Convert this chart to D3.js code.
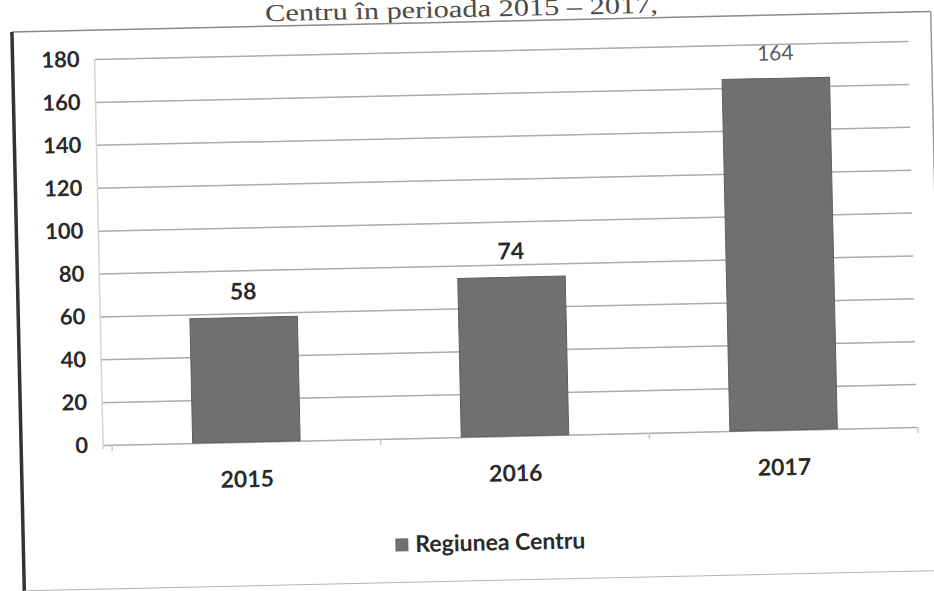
<!DOCTYPE html>
<html>
<head>
<meta charset="utf-8">
<script src="https://cdn.jsdelivr.net/npm/d3@7"></script>
<style>
  body { margin: 0; background: #fff; }
  svg { display: block; }
</style>
</head>
<body>
<svg id="chart" width="934" height="591"></svg>
<script>
// Data
const categories = ["2015", "2016", "2017"];
const values = [58, 74, 164];
const yTicks = [0, 20, 40, 60, 80, 100, 120, 140, 160, 180];
const seriesName = "Regiunea Centru";
const titleText = "Centru în perioada 2015 – 2017,";

const W = 934, H = 591;
const svg = d3.select("#chart");
svg.append("rect").attr("width", W).attr("height", H).attr("fill", "#fff");

// The printed page sits slightly askew
const g = svg.append("g").attr("transform", "rotate(-1.27,510,436)");

const plot = { left: 103, right: 917, top: 50, bottom: 436 };
const x = d3.scaleBand().domain(categories).range([112, 918])
  .paddingInner(0.6).paddingOuter(0.3);
const y = d3.scaleLinear().domain([0, 180]).range([plot.bottom, plot.top]);

const font = "Lato, 'Open Sans', sans-serif";
const ink = "#2a2a2a";

// Page title above the chart frame
g.append("text")
  .attr("x", 471).attr("y", 16)
  .attr("text-anchor", "middle")
  .attr("font-family", "'Liberation Serif', 'Times New Roman', serif")
  .attr("font-size", 24)
  .attr("fill", "#4a4a4a")
  .attr("textLength", 393).attr("lengthAdjust", "spacingAndGlyphs")
  .text(titleText);

// Chart frame
g.append("line").attr("x1", 21).attr("x2", 940).attr("y1", 21).attr("y2", 21)
  .attr("stroke", "#8a8a8a").attr("stroke-width", 1.5);
g.append("line").attr("x1", 21).attr("x2", 21).attr("y1", 21).attr("y2", 600)
  .attr("stroke", "#333").attr("stroke-width", 3.5);
g.append("line").attr("x1", 940).attr("x2", 940).attr("y1", 21).attr("y2", 580)
  .attr("stroke", "#9a9a9a").attr("stroke-width", 1.5);
g.append("line").attr("x1", 21).attr("x2", 940).attr("y1", 580).attr("y2", 580)
  .attr("stroke", "#b5b5b5").attr("stroke-width", 1);

// Y axis with gridlines
const yAxis = d3.axisLeft(y).tickValues(yTicks)
  .tickSize(-(plot.right - plot.left)).tickPadding(15);
const ya = g.append("g").attr("transform", `translate(${plot.left},0)`).call(yAxis);
ya.select(".domain").remove();
ya.selectAll(".tick line").attr("stroke", "#ababab").attr("stroke-width", 1.5);
ya.selectAll(".tick text")
  .attr("font-family", font).attr("font-weight", 700).attr("font-size", 22)
  .attr("fill", ink);

// faint vertical axis line
g.append("line").attr("x1", plot.left).attr("x2", plot.left)
  .attr("y1", plot.top).attr("y2", plot.bottom + 4)
  .attr("stroke", "#d4d4d4").attr("stroke-width", 1.5);

// Category boundary ticks
const bounds = categories.map(c => x(c) - x.step() * x.paddingInner() / 2);
bounds.push(x(categories[categories.length - 1]) + x.bandwidth() + x.step() * x.paddingInner() / 2);
g.selectAll(".ctick").data(bounds).join("line")
  .attr("x1", d => d).attr("x2", d => d)
  .attr("y1", plot.bottom).attr("y2", plot.bottom + 6)
  .attr("stroke", "#c8c8c8").attr("stroke-width", 1.5);

// X axis labels
const xAxis = d3.axisBottom(x).tickSize(0).tickPadding(29);
const xa = g.append("g").attr("transform", `translate(0,${plot.bottom})`).call(xAxis);
xa.select(".domain").remove();
xa.selectAll(".tick text")
  .attr("font-family", font).attr("font-weight", 700).attr("font-size", 23)
  .attr("fill", ink);

// Bars
const barColor = "#707070";
g.selectAll(".bar").data(values).join("rect")
  .attr("x", (d, i) => x(categories[i]))
  .attr("y", d => y(d))
  .attr("width", x.bandwidth())
  .attr("height", d => y(0) - y(d))
  .attr("fill", barColor)
  .attr("stroke", "#5e5e5e").attr("stroke-width", 1);

// Value labels
g.selectAll(".val").data(values).join("text")
  .attr("x", (d, i) => x(categories[i]) + x.bandwidth() / 2)
  .attr("y", d => y(d) - 18)
  .attr("text-anchor", "middle")
  .attr("font-family", font)
  .attr("font-weight", (d, i) => i === 2 ? 400 : 700)
  .attr("font-size", (d, i) => i === 2 ? 21 : 23)
  .attr("fill", (d, i) => i === 2 ? "#5a5a5a" : ink)
  .text(d => d);

// Legend
const lg = g.append("g").attr("transform", "translate(393,536)");
lg.append("rect").attr("width", 13).attr("height", 13).attr("fill", barColor);
lg.append("text").attr("x", 20).attr("y", 14)
  .attr("font-family", font).attr("font-weight", 700).attr("font-size", 23)
  .attr("fill", ink).text(seriesName);
</script>
</body>
</html>
